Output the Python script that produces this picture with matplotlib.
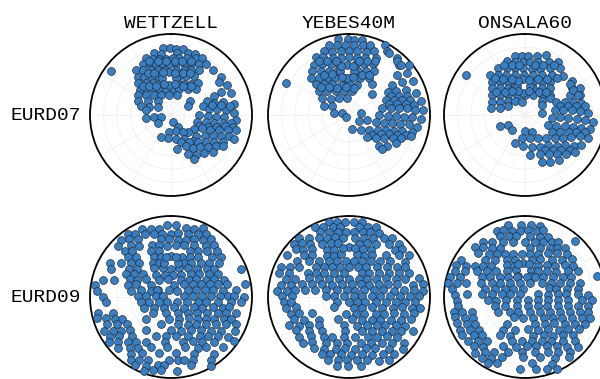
import numpy as np
import matplotlib.pyplot as plt

stations = ['WETTZELL', 'YEBES40M', 'ONSALA60']
sessions = ['EURD07', 'EURD09']

# scans as (azimuth deg, zenith distance deg)
eurd07_wettzell = [
    (306, 83),
    (353, 75), (359, 74), (4, 74), (10, 75),
    (345, 71), (351, 69), (6, 69), (15, 71), (21, 73),
    (336, 69), (342, 66), (348, 64), (355, 63), (2, 63), (8, 64), (16, 66), (24, 69), (29, 72),
    (331, 65), (337, 61), (344, 59), (351, 57), (358, 57), (6, 57), (15, 58), (21, 61), (29, 65), (34, 69),
    (322, 63), (328, 59), (336, 55), (344, 52), (352, 50), (6, 50), (16, 52), (24, 55), (32, 59), (43, 68),
    (319, 56), (325, 52), (334, 47), (343, 44), (12, 44), (21, 46), (31, 50),
    (314, 51), (322, 45), (330, 41), (340, 37), (12, 36), (23, 38), (32, 41), (40, 46),
    (309, 45), (316, 40), (325, 35), (336, 32), (349, 29), (4, 29), (18, 30), (33, 34), (44, 40),
    (301, 43), (309, 36), (320, 29), (333, 25), (355, 22), (18, 23),
    (293, 40), (301, 30), (316, 21), (53, 26),
    (286, 35), (291, 26), (302, 17), (63, 21), (281, 28),
    (264, 28), (264, 19), (261, 11), (238, 17),
    (347, 42), (8, 41), (358, 48), (357, 33), (348, 35), (7, 35), (350, 48), (6, 47),
    (338, 65), (346, 62), (355, 60), (4, 60), (12, 61), (20, 64),
    (331, 53), (338, 50), (16, 48), (24, 51),
    (316, 45), (323, 40), (333, 36), (22, 35), (35, 39),
    (53, 70), (56, 65), (62, 71), (65, 61), (70, 71), (66, 52), (69, 43), (74, 50), (76, 59), (80, 71),
    (74, 37), (81, 43), (83, 52), (85, 61), (88, 70),
    (77, 47), (79, 57), (81, 66),
    (89, 31), (91, 41), (92, 50), (92, 59), (94, 72),
    (104, 30), (101, 40), (101, 49), (99, 58), (98, 67),
    (112, 34), (108, 43), (105, 52), (102, 61), (101, 70),
    (120, 30), (113, 38), (111, 47), (107, 56), (105, 65), (103, 74),
    (135, 26), (130, 36), (122, 44), (116, 52), (113, 60), (110, 69), (111, 75),
    (166, 8), (150, 15), (186, 19), (163, 19), (145, 23), (188, 26), (168, 27), (151, 30), (140, 38), (205, 27),
    (159, 32), (146, 36), (135, 42), (127, 49), (122, 56), (117, 65),
    (170, 38), (154, 38), (146, 44), (137, 48), (131, 54), (125, 61), (121, 67),
    (157, 47), (148, 52), (139, 56), (131, 62), (152, 55),
]

eurd07_yebes = [
    (297, 79),
    (352, 85), (359, 84), (4, 84), (10, 85),
    (344, 81), (350, 79), (357, 78), (4, 78), (11, 79), (17, 81), (27, 87),
    (339, 76), (345, 73), (353, 72), (0, 71), (7, 72), (15, 73), (21, 76), (31, 83),
    (330, 74), (336, 70), (344, 66), (352, 64), (0, 64), (8, 64), (16, 66), (25, 70), (40, 83),
    (325, 68), (332, 64), (340, 60), (349, 57), (8, 57), (16, 59), (25, 62), (45, 79), (50, 87),
    (320, 64), (327, 58), (336, 54), (345, 51), (11, 50), (21, 52), (30, 56),
    (314, 59), (321, 53), (330, 48), (340, 44), (352, 42), (5, 42), (17, 43), (28, 47),
    (313, 50), (321, 44), (331, 39), (345, 35), (0, 34), (15, 35), (37, 43),
    (309, 43), (318, 36), (331, 30), (348, 27), (8, 27), (48, 35),
    (302, 35), (312, 27), (329, 22), (354, 19),
    (290, 30), (299, 21), (276, 17), (284, 8), (243, 4),
    (349, 50), (6, 49), (358, 56), (357, 41), (351, 55), (5, 55), (349, 43), (6, 43),
    (331, 69), (338, 65), (346, 62), (10, 61), (19, 63), (26, 67),
    (328, 53), (338, 49), (18, 47), (26, 50),
    (314, 44), (324, 38), (337, 33), (353, 31), (10, 31),
    (33, 82), (42, 80), (46, 80), (54, 80), (50, 70), (62, 80), (58, 70), (55, 58), (59, 50), (63, 58),
    (66, 69), (72, 78),
    (65, 51), (69, 60), (72, 68),
    (68, 44), (72, 53), (74, 61), (76, 70), (79, 81),
    (75, 46), (77, 55), (79, 64), (81, 73),
    (78, 38), (80, 47), (82, 56), (83, 65), (86, 74), (86, 82),
    (90, 33), (91, 43), (91, 52), (92, 61), (92, 70), (93, 80),
    (105, 31), (103, 40), (101, 49), (100, 58), (99, 67), (100, 77),
    (82, 13), (121, 13), (105, 21),
    (167, 16), (142, 21), (127, 28), (118, 36), (112, 44), (110, 53), (107, 62), (105, 73),
    (130, 34), (121, 41), (116, 49), (112, 58), (109, 67),
    (141, 32), (130, 39), (123, 46), (118, 55), (114, 63), (109, 73),
    (136, 48), (129, 54), (121, 61), (136, 53),
]

eurd07_onsala = [
    (304, 79),
    (350, 67), (357, 66), (3, 66), (11, 67), (19, 70),
    (341, 63), (349, 60), (358, 59), (5, 59), (14, 61), (24, 65), (32, 70),
    (330, 60), (339, 56), (348, 53), (358, 52), (8, 52), (18, 54), (28, 59), (37, 65),
    (319, 59), (326, 53), (335, 49), (346, 46), (358, 44), (12, 45), (23, 48), (34, 53), (44, 61),
    (315, 52), (323, 46), (333, 41), (343, 39), (14, 38), (27, 41), (37, 46), (54, 64),
    (309, 47), (317, 41), (328, 35), (336, 32), (17, 31), (32, 35), (43, 41), (60, 60), (64, 68),
    (301, 43), (309, 36), (320, 29), (337, 24), (0, 22), (23, 24), (40, 29), (51, 36), (66, 55), (70, 65),
    (292, 40), (298, 31), (309, 24), (323, 19), (346, 15), (51, 24), (56, 33),
    (281, 38), (285, 29), (297, 21), (59, 22), (84, 19),
    (247, 30), (239, 22), (222, 22),
    (344, 34), (10, 33), (357, 40), (356, 25), (348, 39), (7, 39), (343, 28), (10, 27),
    (337, 60), (345, 57), (353, 56), (11, 57), (20, 59), (30, 64),
    (321, 53), (329, 47), (340, 43), (20, 43), (31, 47), (41, 54),
    (309, 41), (319, 34), (331, 30), (30, 30), (43, 35),
    (55, 61), (63, 60), (69, 63), (67, 38), (72, 47), (75, 55), (78, 64),
    (75, 40), (78, 49), (80, 58), (81, 67),
    (81, 34), (83, 43), (84, 52), (86, 61), (88, 70),
    (96, 30), (94, 39), (94, 48), (94, 58), (95, 67), (96, 76),
    (113, 28), (109, 37), (105, 46), (104, 55), (103, 64), (102, 74),
    (122, 35), (116, 43), (111, 52), (108, 60), (106, 69),
    (180, 18), (158, 20),
    (188, 26), (168, 26), (150, 29), (137, 35), (127, 42), (121, 49), (115, 57), (111, 65), (110, 75),
    (199, 33), (183, 35), (168, 36), (155, 39), (142, 42), (134, 49), (127, 56), (122, 64), (118, 71),
    (150, 45), (141, 50), (134, 56), (128, 63),
    (173, 45), (159, 47), (149, 51), (141, 56), (133, 63), (126, 69),
    (160, 55), (152, 59), (143, 62),
]

eurd09_wettzell = [
    (357, 80), (4, 80),
    (337, 82), (344, 79), (350, 77), (12, 78), (19, 80), (25, 84),
    (326, 85), (330, 81), (338, 76), (345, 73), (352, 71), (0, 70), (6, 71), (15, 73), (23, 76), (29, 80),
    (319, 84), (324, 79), (330, 74), (350, 65), (358, 64), (7, 64), (15, 66), (22, 69), (29, 73), (35, 78),
    (314, 82), (322, 73), (328, 67), (340, 61), (347, 59), (356, 57), (6, 58), (14, 59), (24, 63), (34, 69), (40, 75),
    (315, 73), (320, 67), (336, 56), (346, 53), (22, 55), (30, 59), (38, 65), (45, 73),
    (313, 65), (319, 59), (337, 48), (346, 46), (16, 46), (25, 49), (34, 53), (46, 64), (51, 71),
    (299, 78), (304, 67), (310, 58), (317, 52), (332, 43), (341, 40), (21, 41), (30, 44), (41, 50), (48, 57), (55, 65),
    (295, 74), (304, 56), (310, 49), (330, 37), (344, 33), (0, 31), (16, 33), (30, 37), (43, 43), (52, 51), (57, 57), (68, 84),
    (297, 56), (302, 48), (309, 40), (326, 30), (344, 26), (4, 25), (24, 27), (41, 34), (51, 40), (59, 49), (64, 58),
    (348, 39), (12, 39), (0, 46), (353, 45), (7, 45),
    (284, 78), (287, 66), (293, 50), (297, 42), (305, 34), (326, 23), (349, 20), (30, 22), (47, 28), (55, 34),
    (64, 43), (68, 52), (72, 62),
    (279, 86), (286, 50), (290, 41), (302, 26), (298, 16), (15, 14), (46, 20), (60, 28), (67, 36), (72, 45),
    (75, 54), (77, 64), (80, 83),
    (275, 82), (279, 45), (283, 34), (288, 23), (297, 17), (346, 8), (45, 10), (68, 20), (75, 29), (79, 38),
    (81, 47), (83, 58), (84, 73),
    (270, 76), (271, 37), (272, 28), (273, 17), (275, 9), (87, 15), (88, 24), (89, 35), (89, 44), (89, 54),
    (89, 63), (89, 70), (90, 81),
    (266, 72), (261, 34), (257, 25), (247, 14), (214, 7), (127, 9), (107, 19), (101, 30), (98, 39), (96, 52),
    (95, 67), (94, 78),
    (248, 32), (237, 22), (212, 14), (163, 12), (129, 19), (114, 28), (109, 37), (104, 48), (102, 59), (100, 66),
    (258, 83), (255, 67), (229, 27), (197, 19), (157, 19), (134, 26), (121, 34), (114, 44), (109, 55), (106, 64),
    (104, 74),
    (254, 85), (252, 76), (249, 67), (246, 59), (229, 37), (184, 24), (159, 26), (140, 31), (129, 38), (122, 46),
    (117, 54), (112, 64), (110, 71),
    (247, 77), (243, 67), (238, 57), (200, 32), (166, 31), (149, 36), (138, 41), (128, 49), (121, 58), (116, 68),
    (113, 78),
    (243, 83), (240, 75), (236, 67), (231, 59), (217, 46), (180, 37), (163, 39), (149, 43), (138, 50), (130, 58),
    (124, 67), (118, 80),
    (237, 81), (233, 72), (225, 62), (201, 47), (187, 44), (173, 44), (157, 47), (144, 54), (137, 60), (130, 68),
    (125, 77),
    (234, 85), (230, 77), (224, 69), (218, 63), (209, 57), (188, 50), (165, 52), (154, 55), (145, 61), (136, 69),
    (125, 86),
    (226, 82), (219, 73), (213, 67), (202, 60), (184, 56), (165, 58), (152, 64), (145, 68), (134, 80),
    (215, 77), (207, 70), (192, 64), (175, 63), (158, 68), (143, 79),
    (212, 83), (207, 78), (200, 74), (182, 70), (174, 70), (168, 71), (161, 74), (148, 83),
    (208, 86), (200, 81), (191, 77), (186, 76), (164, 79), (150, 88),
    (200, 87), (194, 84), (188, 82), (175, 82),
]

eurd09_yebes = [
    (345, 86), (351, 84), (357, 83), (4, 83), (10, 85),
    (334, 86), (340, 83), (347, 80), (353, 78), (8, 78), (15, 80), (21, 83),
    (336, 79), (343, 75), (350, 73), (357, 72), (4, 72), (12, 74), (18, 76), (25, 79),
    (320, 86), (326, 79), (333, 74), (340, 70), (347, 68), (354, 66), (6, 66), (14, 68), (22, 71), (31, 76), (36, 81),
    (314, 85), (319, 79), (324, 73), (333, 66), (341, 63), (348, 61), (11, 60), (19, 63), (27, 66), (37, 74), (43, 81),
    (312, 79), (316, 73), (322, 67), (335, 58), (342, 55), (16, 55), (25, 58), (44, 73), (48, 79),
    (304, 83), (313, 68), (319, 62), (332, 52), (340, 49), (20, 49), (29, 53), (41, 62), (50, 72), (55, 81),
    (350, 49), (10, 49), (0, 56), (353, 55), (7, 55),
    (305, 70), (312, 60), (320, 52), (331, 46), (342, 42), (355, 40), (8, 40), (20, 43), (31, 47), (41, 53),
    (49, 61), (58, 74),
    (294, 83), (297, 74), (301, 65), (312, 50), (320, 43), (331, 38), (344, 35), (0, 33), (16, 35), (29, 38),
    (43, 46), (52, 54), (58, 63), (62, 71),
    (289, 82), (292, 72), (300, 53), (306, 46), (314, 38), (328, 31), (348, 27), (29, 30), (40, 35), (51, 43),
    (59, 52), (64, 62), (68, 72),
    (286, 73), (289, 63), (295, 49), (301, 39), (312, 30), (331, 23), (0, 20), (29, 23), (45, 29), (56, 36),
    (63, 46), (69, 56), (72, 66), (75, 80),
    (280, 77), (282, 66), (285, 54), (289, 43), (295, 33), (307, 23), (332, 16), (15, 15), (43, 19), (58, 26),
    (67, 36), (72, 45), (75, 55), (79, 72), (80, 83),
    (275, 80), (276, 69), (277, 60), (279, 49), (281, 38), (286, 27), (300, 15), (346, 8), (45, 10), (66, 18),
    (75, 29), (79, 38), (82, 50), (83, 62), (84, 73), (85, 82),
    (271, 74), (271, 63), (272, 26), (272, 17), (278, 6), (82, 6), (87, 15), (88, 26), (89, 35), (89, 46),
    (89, 57), (89, 68), (89, 78),
    (266, 72), (265, 65), (247, 14), (180, 6), (121, 11), (107, 19), (101, 30), (98, 41), (96, 52), (95, 63),
    (94, 74),
    (260, 71), (259, 60), (235, 20), (155, 13), (129, 19), (114, 28), (108, 39), (104, 50), (101, 60), (100, 71),
    (99, 80),
    (254, 67), (252, 58), (246, 45), (191, 19), (158, 20), (138, 25), (122, 35), (116, 43), (110, 53), (107, 64),
    (104, 74),
    (248, 66), (243, 56), (233, 42), (207, 28), (172, 25), (150, 29), (134, 36), (126, 43), (119, 53), (114, 63),
    (110, 73),
    (245, 74), (240, 64), (235, 54), (227, 46), (190, 32), (164, 33), (147, 37), (135, 44), (128, 51), (121, 61),
    (117, 70),
    (238, 70), (230, 58), (218, 48), (186, 38), (159, 41), (146, 46), (136, 53), (128, 61), (123, 69), (118, 80),
    (231, 71), (224, 61), (212, 52), (203, 48), (187, 45), (171, 45), (155, 49), (145, 54), (136, 61), (130, 70),
    (225, 73), (219, 65), (207, 57), (194, 53), (182, 51), (166, 53), (155, 57), (144, 63), (137, 70), (130, 80),
    (214, 69), (206, 64), (194, 59), (184, 57), (173, 58), (162, 60), (153, 64), (142, 73), (134, 83),
    (205, 70), (198, 67), (188, 64), (178, 64), (167, 65), (158, 69), (149, 74), (142, 81),
    (198, 74), (190, 71), (182, 70), (173, 71), (164, 73), (155, 78), (148, 83),
    (190, 78), (181, 77), (170, 78),
]

eurd09_onsala = [
    (347, 82), (357, 80), (5, 80), (12, 81),
    (337, 80), (342, 78), (349, 75), (356, 74), (3, 74), (10, 75), (15, 77),
    (338, 73), (345, 70), (352, 68), (5, 68), (14, 69), (21, 72),
    (323, 77), (329, 71), (338, 66), (348, 62), (0, 61), (10, 62), (18, 64), (26, 68), (31, 71), (42, 83),
    (315, 78), (320, 72), (326, 66), (333, 61), (6, 55), (17, 57), (27, 61), (33, 65), (39, 70),
    (313, 71), (320, 63), (327, 57), (335, 53), (345, 50), (356, 48), (7, 48), (17, 50), (28, 55), (36, 60), (44, 67),
    (300, 82), (313, 61), (321, 53), (334, 46), (345, 43), (10, 42), (22, 45), (36, 51), (45, 58), (51, 67),
    (295, 84), (298, 74), (302, 66), (307, 58), (313, 51), (330, 41), (340, 37), (23, 38), (34, 43), (44, 48),
    (52, 57), (57, 64),
    (342, 32), (12, 31), (357, 38), (348, 38), (7, 37), (341, 25), (13, 24),
    (290, 83), (293, 73), (298, 61), (304, 51), (312, 43), (325, 35), (27, 32), (40, 38), (51, 45), (59, 56),
    (64, 66),
    (285, 86), (287, 75), (295, 53), (300, 45), (309, 36), (320, 29), (337, 24), (5, 22), (27, 25), (43, 30),
    (55, 38), (63, 48), (67, 56), (74, 83),
    (280, 87), (282, 77), (283, 67), (288, 51), (293, 40), (299, 32), (313, 23), (340, 17), (20, 17), (50, 24),
    (62, 33), (68, 42), (73, 52), (76, 63),
    (276, 82), (282, 45), (285, 35), (293, 24), (305, 16), (349, 9), (70, 28), (75, 36), (79, 47), (81, 60),
    (272, 78), (273, 65), (274, 48), (275, 37), (277, 26), (280, 17), (298, 6), (79, 15), (84, 26), (85, 37),
    (86, 46), (87, 59), (88, 70),
    (267, 76), (265, 41), (263, 32), (260, 21), (248, 10), (135, 5), (104, 15), (98, 26), (96, 37), (94, 48),
    (93, 63), (93, 74),
    (262, 75), (253, 35), (245, 24), (222, 14), (160, 11), (125, 18), (113, 26), (106, 38), (102, 49), (100, 60),
    (98, 71),
    (258, 81), (257, 72), (254, 61), (241, 34), (225, 24), (204, 18), (162, 17), (135, 24), (121, 32), (113, 42),
    (108, 53), (105, 63), (103, 72),
    (254, 81), (251, 70), (248, 62), (209, 26), (185, 23), (158, 25), (138, 31), (126, 39), (119, 47), (114, 57),
    (110, 67), (108, 76),
    (249, 81), (245, 71), (242, 63), (214, 36), (159, 32), (143, 37), (132, 44), (124, 53), (118, 63), (114, 73),
    (243, 81), (239, 71), (235, 63), (214, 44), (197, 38), (174, 36), (158, 39), (144, 44), (134, 52), (127, 60),
    (121, 70),
    (239, 82), (233, 71), (229, 64), (213, 51), (201, 46), (168, 44), (154, 47), (144, 53), (135, 60), (128, 68),
    (232, 80), (227, 71), (221, 65), (197, 51), (184, 49), (171, 50), (159, 52), (149, 57), (139, 65), (131, 74),
    (226, 79), (220, 72), (204, 60), (190, 56), (178, 55), (167, 56), (156, 60), (147, 65), (140, 72), (133, 81),
    (222, 83), (216, 75), (209, 70), (197, 64), (183, 61), (170, 62), (157, 66), (149, 71), (141, 79),
    (215, 83), (209, 77), (201, 72), (182, 67), (166, 69), (154, 75), (144, 83),
    (209, 84), (203, 80), (174, 74), (158, 80),
    (184, 80), (171, 81), (163, 84), (156, 87),
]

panels = [
    [eurd07_wettzell, eurd07_yebes, eurd07_onsala],
    [eurd09_wettzell, eurd09_yebes, eurd09_onsala],
]

W, H = 600, 379
fig = plt.figure(figsize=(W / 100, H / 100), dpi=100)
mono = ['Liberation Mono', 'DejaVu Sans Mono']

col_left = [90, 268, 444]
row_bottom = [183, 1]
size = 162

for i, session in enumerate(sessions):
    for j, station in enumerate(stations):
        ax = fig.add_axes([col_left[j] / W, row_bottom[i] / H, size / W, size / H],
                          projection='polar')
        ax.set_theta_zero_location('N')
        ax.set_theta_direction(-1)
        ax.set_ylim(0, 90)
        ax.set_yticks([15, 30, 45, 60, 75])
        ax.set_xticks(np.radians(np.arange(0, 360, 30)))
        ax.set_xticklabels([])
        ax.set_yticklabels([])
        ax.grid(color='#ededed', lw=0.5)
        ax.spines['polar'].set_linewidth(1.3)
        ax.set_facecolor('white')

        az, zd = zip(*panels[i][j])
        ax.scatter(np.radians(az), zd, s=32, c='#3a7ebf', edgecolors='#1c2f45',
                   linewidths=0.5, zorder=3, clip_on=False)

        if i == 0:
            ax.set_title(station, family=mono, fontsize=14, pad=4)
    fig.text(81 / W, 1 - (115 if i == 0 else 297) / H, session, ha='right', va='center',
             family=mono, fontsize=14)

fig.savefig('out.png', dpi=100)
